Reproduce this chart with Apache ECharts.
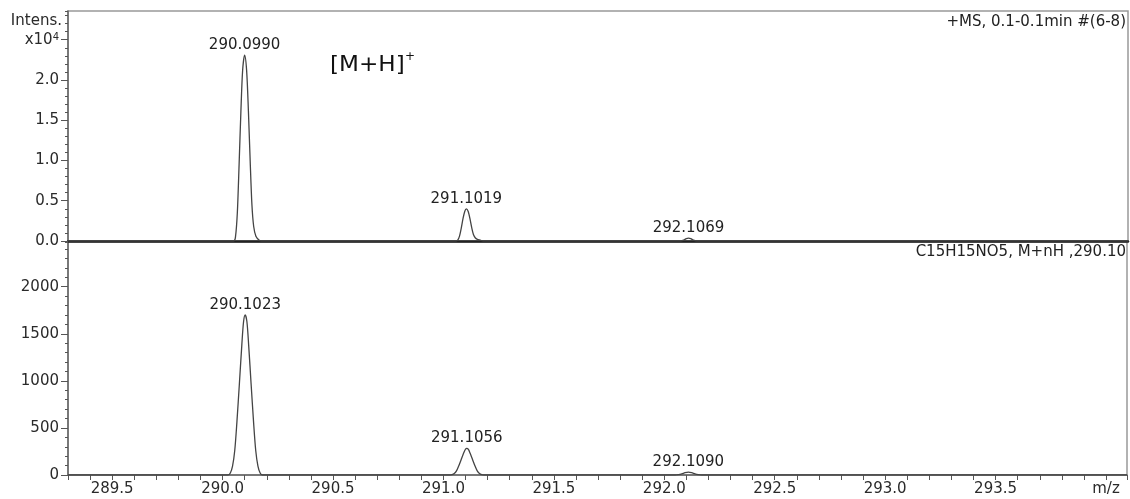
<!DOCTYPE html>
<html>
<head>
<meta charset="utf-8">
<script src="https://cdn.jsdelivr.net/npm/echarts@6/dist/echarts.min.js"></script>
<style>html,body{margin:0;padding:0;background:#fff;}#c{width:1130px;height:499px;}</style>
</head>
<body>
<div id="c"></div>
<script>
// ---- data ----
const mzMin = 289.3;
const mzMax = 294.095;
const xTickLabels = ['289.5','290.0','290.5','291.0','291.5','292.0','292.5','293.0','293.5'];
const topTickLabels = ['0.0','0.5','1.0','1.5','2.0'];
const bottomTickLabels = ['0','500','1000','1500','2000'];

// measured spectrum (+MS), intensity in units of 1e4
const topProfile = [
  [289.300, 0], [290.050, 0], [290.058, 0.06], [290.066, 0.35], [290.074, 0.95],
  [290.082, 1.60], [290.090, 2.12], [290.099, 2.31], [290.108, 2.12], [290.116, 1.62],
  [290.124, 1.00], [290.132, 0.45], [290.140, 0.18], [290.150, 0.06], [290.165, 0.01],
  [290.175, 0],
  [291.055, 0], [291.063, 0.01], [291.071, 0.06], [291.079, 0.16], [291.087, 0.28],
  [291.095, 0.37], [291.1019, 0.40], [291.110, 0.37], [291.118, 0.28], [291.126, 0.17],
  [291.134, 0.08], [291.142, 0.04], [291.152, 0.02], [291.165, 0.01], [291.178, 0],
  [292.070, 0], [292.085, 0.01], [292.097, 0.03], [292.1069, 0.035], [292.117, 0.03],
  [292.129, 0.01], [292.145, 0],
  [294.095, 0]
];
const topPeakMz = [290.0990, 291.1019, 292.1069];
const topPeakHeights = [2.31, 0.40, 0.035];
const topPeakLabels = ['290.0990', '291.1019', '292.1069'];

// simulated isotope pattern C15H15NO5, M+nH
const bottomProfile = [
  [289.300, 0],
  [290.025, 0], [290.035, 22], [290.045, 95], [290.055, 260], [290.065, 570],
  [290.076, 970], [290.087, 1380], [290.095, 1630], [290.1023, 1700], [290.110, 1630],
  [290.118, 1380], [290.129, 970], [290.140, 570], [290.150, 260], [290.160, 95],
  [290.170, 22], [290.180, 0],
  [291.029, 0], [291.039, 4], [291.049, 16], [291.059, 43], [291.069, 95],
  [291.080, 162], [291.091, 230], [291.099, 271], [291.1056, 283], [291.113, 271],
  [291.121, 230], [291.132, 162], [291.143, 95], [291.153, 43], [291.163, 16],
  [291.173, 4], [291.183, 0],
  [292.049, 0], [292.064, 4], [292.079, 12], [292.094, 24], [292.109, 30],
  [292.124, 24], [292.139, 12], [292.154, 4], [292.169, 0],
  [294.095, 0]
];
const bottomPeakMz = [290.1023, 291.1056, 292.1090];
const bottomPeakHeights = [1700, 283, 30];
const bottomPeakLabels = ['290.1023', '291.1056', '292.1090'];

// ---- chart ----
const FONT = 'DejaVu Sans';
const TXT = '#2a2a2a';
const near = (a, b) => Math.abs(a - b) < 1e-6;

function xFmt(v) {
  if (near(v, 294.0)) return 'm/z';
  const s = v.toFixed(1);
  return xTickLabels.indexOf(s) >= 0 && near(v, parseFloat(s)) ? s : '';
}
function topFmt(v) {
  if (near(v, 2.5)) return '{a|x10}{b|4}';
  const s = v.toFixed(1);
  return topTickLabels.indexOf(s) >= 0 && near(v, parseFloat(s)) ? s : '';
}
function botFmt(v) {
  const s = String(Math.round(v));
  return bottomTickLabels.indexOf(s) >= 0 && near(v, Math.round(v)) ? s : '';
}

const labelStyle = { show: true, position: 'top', distance: 2, color: '#222', fontFamily: FONT, fontSize: 15,
  formatter: p => p.value[2] };

const chart = echarts.init(document.getElementById('c'), null, { renderer: 'canvas' });
chart.setOption({
  animation: false,
  backgroundColor: '#fff',
  grid: [
    { left: 68, right: 2, top: 11, height: 230, show: true, borderColor: '#999', borderWidth: 1.5 },
    { left: 68, right: 2, top: 242, height: 233, show: true, borderColor: '#999', borderWidth: 1.5 }
  ],
  xAxis: [
    { gridIndex: 0, type: 'value', min: mzMin, max: mzMax, interval: 0.1,
      axisLine: { show: true, onZero: false, lineStyle: { color: '#222', width: 2.5 } },
      axisTick: { show: false }, axisLabel: { show: false }, splitLine: { show: false } },
    { gridIndex: 1, type: 'value', min: mzMin, max: mzMax, interval: 0.1,
      axisLine: { show: true, onZero: false, lineStyle: { color: '#666', width: 1.5 } },
      axisTick: { show: true, length: 5, lineStyle: { color: '#555', width: 1 } },
      axisLabel: { formatter: xFmt, margin: 7, color: TXT, fontFamily: FONT, fontSize: 15 },
      splitLine: { show: false } }
  ],
  yAxis: [
    { gridIndex: 0, type: 'value', min: 0, max: 2.857, interval: 0.5, position: 'left',
      axisLine: { show: true, lineStyle: { color: '#666', width: 1.5 } },
      axisTick: { show: true, length: 7, lineStyle: { color: '#555' } },
      axisLabel: { formatter: topFmt, margin: 9, color: TXT, fontFamily: FONT, fontSize: 15, showMaxLabel: false,
        rich: { a: { color: TXT, fontFamily: FONT, fontSize: 15 }, b: { color: TXT, fontFamily: FONT, fontSize: 10, verticalAlign: 'top' } } },
      splitLine: { show: false } },
    { gridIndex: 0, type: 'value', min: 0, max: 2.857, interval: 0.1, position: 'left', offset: 0,
      axisLine: { show: false }, axisTick: { show: true, length: 3, lineStyle: { color: '#555' } },
      axisLabel: { show: false }, splitLine: { show: false } },
    { gridIndex: 1, type: 'value', min: 0, max: 2475, interval: 500, position: 'left',
      axisLine: { show: true, lineStyle: { color: '#666', width: 1.5 } },
      axisTick: { show: true, length: 7, lineStyle: { color: '#555' } },
      axisLabel: { formatter: botFmt, margin: 9, color: TXT, fontFamily: FONT, fontSize: 15, showMaxLabel: false },
      splitLine: { show: false } },
    { gridIndex: 1, type: 'value', min: 0, max: 2475, interval: 100, position: 'left', offset: 0,
      axisLine: { show: false }, axisTick: { show: true, length: 3, lineStyle: { color: '#555' } },
      axisLabel: { show: false }, splitLine: { show: false } }
  ],
  series: [
    { type: 'line', xAxisIndex: 0, yAxisIndex: 0, data: topProfile, showSymbol: false, smooth: 0.3,
      lineStyle: { color: '#444', width: 1.3 }, z: 3 },
    { type: 'scatter', xAxisIndex: 0, yAxisIndex: 0, symbolSize: 1, itemStyle: { color: 'rgba(0,0,0,0)', opacity: 1 },
      data: topPeakMz.map((m, i) => [m, topPeakHeights[i], topPeakLabels[i]]), label: labelStyle, z: 4 },
    { type: 'line', xAxisIndex: 1, yAxisIndex: 2, data: bottomProfile, showSymbol: false, smooth: 0.3,
      lineStyle: { color: '#444', width: 1.3 }, z: 3 },
    { type: 'scatter', xAxisIndex: 1, yAxisIndex: 2, symbolSize: 1, itemStyle: { color: 'rgba(0,0,0,0)', opacity: 1 },
      data: bottomPeakMz.map((m, i) => [m, bottomPeakHeights[i], bottomPeakLabels[i]]), label: labelStyle, z: 4 }
  ],
  graphic: [
    { type: 'text', style: { text: 'Intens.', x: 62, y: 21, align: 'right', verticalAlign: 'middle', fill: TXT, font: '15px "DejaVu Sans"' } },
    { type: 'text', style: { text: '+MS, 0.1-0.1min #(6-8)', x: 1126, y: 22, align: 'right', verticalAlign: 'middle', fill: '#222', font: '15px "DejaVu Sans"' } },
    { type: 'text', style: { text: 'C15H15NO5, M+nH ,290.10', x: 1126, y: 252, align: 'right', verticalAlign: 'middle', fill: '#222', font: '15px "DejaVu Sans"' } },
    { type: 'text', x: 330, y: 66, scaleX: 1.1, style: { text: '[M+H]', x: 0, y: 0, align: 'left', verticalAlign: 'middle', fill: '#111', font: '21px "DejaVu Sans"' } },
    { type: 'text', style: { text: '+', x: 405, y: 57, align: 'left', verticalAlign: 'middle', fill: '#111', font: '12px "DejaVu Sans"' } }
  ]
});
</script>
</body>
</html>
